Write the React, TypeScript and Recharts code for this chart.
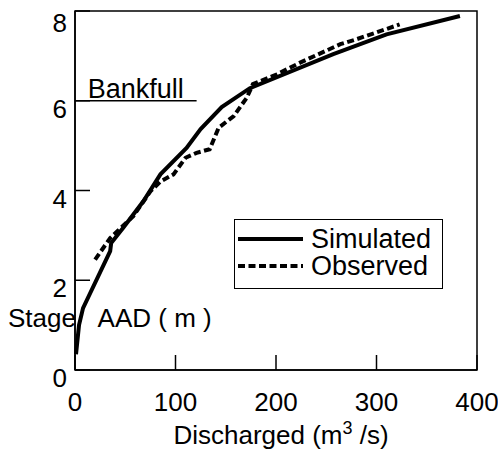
import React from 'react';
import {
  LineChart,
  Line,
  XAxis,
  YAxis,
  ReferenceLine,
  ReferenceArea,
  Legend,
  Label,
} from 'recharts';

const FONT = '"Liberation Sans", Arial, Helvetica, sans-serif';

// discharge (m3/s) and stage (m)
const simulatedQ = [1, 4, 8, 35, 36, 48, 68, 85, 111, 125, 146, 174, 257, 310, 383];
const simulatedStage = [0.35, 1.0, 1.38, 2.65, 2.83, 3.17, 3.76, 4.36, 4.95, 5.37, 5.86, 6.28, 7.04, 7.48, 7.89];

const observedQ = [20, 35, 58, 75, 85, 98, 110, 121, 134, 143, 158, 171, 177, 201, 224, 264, 280, 323];
const observedStage = [2.46, 2.94, 3.43, 3.98, 4.2, 4.36, 4.73, 4.84, 4.92, 5.4, 5.66, 6.07, 6.37, 6.59, 6.85, 7.26, 7.37, 7.7];

const xTicks = [0, 100, 200, 300, 400];
const yTicks = [0, 2, 4, 6, 8];

const bankfullStage = 6;
const bankfullEndQ = 121;

const seriesNames = ['Simulated', 'Observed'];

const simulated = simulatedQ.map((q, i) => ({ q, stage: simulatedStage[i] }));
const observed = observedQ.map((q, i) => ({ q, stage: observedStage[i] }));

const dashes: Record<string, string | undefined> = {
  Simulated: undefined,
  Observed: '7 3.5',
};

const renderLegend = (props: any) => {
  const items = ((props.payload || []) as any[])
    .slice()
    .sort((a, b) => seriesNames.indexOf(a.value) - seriesNames.indexOf(b.value));
  return (
    <div
      style={{
        boxSizing: 'border-box',
        width: 209,
        height: 70,
        border: '1.5px solid #000',
        background: '#fff',
        padding: '5px 0 0 3px',
        fontFamily: FONT,
        fontSize: 27,
        color: '#000',
      }}
    >
      {items.map((it) => (
        <div key={it.value} style={{ display: 'flex', alignItems: 'center', height: 27 }}>
          <svg width={66} height={10} style={{ display: 'block' }}>
            <line x1={0} y1={5} x2={65} y2={5} stroke="#000" strokeWidth={4} strokeDasharray={dashes[it.value]} />
          </svg>
          <span style={{ marginLeft: 7, lineHeight: '26px' }}>{it.value}</span>
        </div>
      ))}
    </div>
  );
};

const XTitle = (props: any) => {
  const vb = props.viewBox || {};
  const cx = vb.x + vb.width / 2 + 5;
  return (
    <text x={cx} y={vb.y + 74} textAnchor="middle" fontFamily={FONT} fontSize={26} fill="#000">
      Discharged (m
      <tspan fontSize={18} dy={-10}>3</tspan>
      <tspan dy={10}> /s)</tspan>
    </text>
  );
};

export default function App() {
  return (
    <div style={{ position: 'absolute', left: 0, top: 0, background: '#fff' }}>
      <LineChart width={498} height={450} margin={{ top: 11, right: 21, bottom: 30, left: 0 }}>
        <ReferenceArea x1={0} x2={400} y1={0} y2={8} fill="none" stroke="#000" strokeWidth={1.5} />
        <XAxis
          dataKey="q"
          type="number"
          domain={[0, 400]}
          ticks={xTicks}
          height={50}
          stroke="#000"
          strokeWidth={1.5}
          tickSize={-15}
          tickMargin={38}
          tick={{ fill: '#000', fontSize: 26, fontFamily: FONT }}
        >
          <Label content={<XTitle />} />
        </XAxis>
        <YAxis
          type="number"
          domain={[0, 8]}
          ticks={yTicks}
          width={75}
          stroke="#000"
          strokeWidth={1.5}
          tickSize={-15}
          tickMargin={23}
          tick={{ fill: '#000', fontSize: 26, fontFamily: FONT, dy: 8 }}
          label={{
            value: 'Stage\u00a0\u00a0\u00a0AAD ( m )',
            position: 'insideBottomLeft',
            offset: 8,
            dy: -35,
            fill: '#000',
            fontSize: 26,
            fontFamily: FONT,
          }}
        />
        <ReferenceLine
          segment={[
            { x: 0, y: bankfullStage },
            { x: bankfullEndQ, y: bankfullStage },
          ]}
          stroke="#000"
          strokeWidth={1.5}
          label={{ value: 'Bankfull', position: 'top', offset: 3, fill: '#000', fontSize: 27, fontFamily: FONT }}
        />
        <Legend
          layout="horizontal"
          verticalAlign="middle"
          align="center"
          content={renderLegend}
          wrapperStyle={{ left: 234, top: 219, width: 209, height: 70 }}
        />
        <Line
          data={simulated}
          dataKey="stage"
          name="Simulated"
          type="linear"
          stroke="#000"
          strokeWidth={4}
          dot={false}
          activeDot={false}
          isAnimationActive={false}
        />
        <Line
          data={observed}
          dataKey="stage"
          name="Observed"
          type="linear"
          stroke="#000"
          strokeWidth={4}
          strokeDasharray="7 3.5"
          dot={false}
          activeDot={false}
          isAnimationActive={false}
        />
      </LineChart>
    </div>
  );
}
